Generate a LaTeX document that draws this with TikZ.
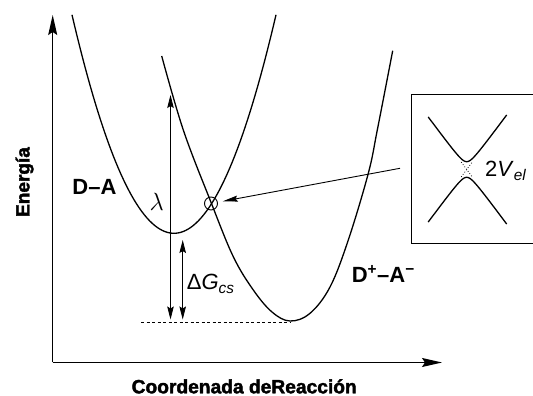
\documentclass[tikz,border=0pt]{standalone}
\usepackage{fontspec}
\setmainfont{Liberation Sans}
\newfontfamily\negrita[BoldFeatures={FakeBold=2}]{Liberation Sans}
\usepackage{tikz}
\usetikzlibrary{positioning, arrows.meta}

\begin{document}
\begin{tikzpicture}[
            x=1pt, y=1pt,
            eje/.style={line width=1.2pt, -{Stealth[length=20pt, width=9pt, inset=3pt]}},
            curva/.style={line width=1.3pt},
            flecha/.style={line width=0.8pt, {Stealth[length=13pt, width=6.5pt, inset=2pt]}-{Stealth[length=13pt, width=6.5pt, inset=2pt]}},
            etiqueta/.style={font=\fontsize{22}{24}\selectfont\bfseries, inner sep=0pt},
            texto/.style={font=\fontsize{22}{24}\selectfont, inner sep=0pt}
        ]
            \useasboundingbox (0,0) rectangle (533,396);

            % ejes
            \coordinate (origen) at (52.7,33.5);
            \coordinate (ytope) at (52.7,381);
            \coordinate (xfin) at (442,33.5);
            \draw[eje] (origen) -- (ytope);
            \draw[eje] (origen) -- (xfin);
            \node[font=\fontsize{19}{20}\selectfont\negrita\bfseries, rotate=90, inner sep=0pt] (energia) at (24.5,214) {Energía};
            \node[font=\fontsize{19.2}{20}\selectfont\negrita\bfseries, inner sep=0pt, anchor=base] (coord) at (244.2,2.7) {Coordenada deReacción};

            % curvas
            \draw[curva] plot[domain=72:276, samples=80] (\x, {162.7+0.021*(\x-174)^2});
            \draw[curva] plot[smooth, tension=0.6] coordinates {(161.7,340) (183.3,266) (211,193.7) (233.3,139.3) (253.3,106) (272,84) (290,75) (310,82.7) (330,109) (348.3,156) (368.3,222.7) (377.3,266) (392.7,345.3)};

            % nivel de energia
            \coordinate (nivelA) at (141,73.7);
            \coordinate (nivelB) at (290,73.7);
            \draw[line width=0.9pt, dash pattern=on 3pt off 2.5pt] (nivelA) -- (nivelB);

            % lambda y Delta G
            \coordinate (lamArriba) at (170.5,301);
            \coordinate (lamAbajo) at (170.5,76.5);
            \draw[flecha] (lamArriba) -- (lamAbajo);
            \coordinate (dgArriba) at (182.7,156);
            \coordinate (dgAbajo) at (182.7,76.5);
            \draw[flecha] (dgArriba) -- (dgAbajo);

            \node[etiqueta, anchor=base] (DA) at (94.5,201) {D--A};
            \node[etiqueta, anchor=base] (DpAm) at (383.3,113.7) {D\textsuperscript{+}--A\textsuperscript{−}};
            \node[inner sep=0pt, font=\fontsize{20}{22}\selectfont, scale=1.2] (lambda) at (156.7,194.3) {$\lambda$};
            \node[texto, anchor=base west] (dG) at (186.7,106) {Δ\textit{G}\textsubscript{\textit{cs}}};

            % cruce y recuadro
            \node[circle, draw, line width=0.9pt, minimum size=13pt, inner sep=0pt] (cruce) at (211,192.5) {};
            \coordinate (desde) at (400,227.7);
            \draw[line width=0.9pt, -{Stealth[length=15pt, width=6pt, inset=2pt]}, shorten >=5pt] (desde) -- (cruce);

            \draw[line width=1.2pt] (545,301.7) -- (411.5,301.7) -- (411.5,152.7) -- (545,152.7);
            \draw[curva] plot[domain=-38.5:40, samples=60] ({466.7+\x}, {226.5+sqrt(60.8+(1.35*\x)^2)});
            \draw[curva] plot[domain=-38.5:40, samples=60] ({466.7+\x}, {226.5-sqrt(60.8+(1.35*\x)^2)});
            \draw[line width=0.8pt, dotted] (461.2,233.9) -- (472.2,219.1);
            \draw[line width=0.8pt, dotted] (461.2,219.1) -- (472.2,233.9);
            \node[texto, anchor=base west] (vel) at (485,219.3) {2\textit{V}\textsubscript{\textit{el}}};

        \end{tikzpicture}
\end{document}
